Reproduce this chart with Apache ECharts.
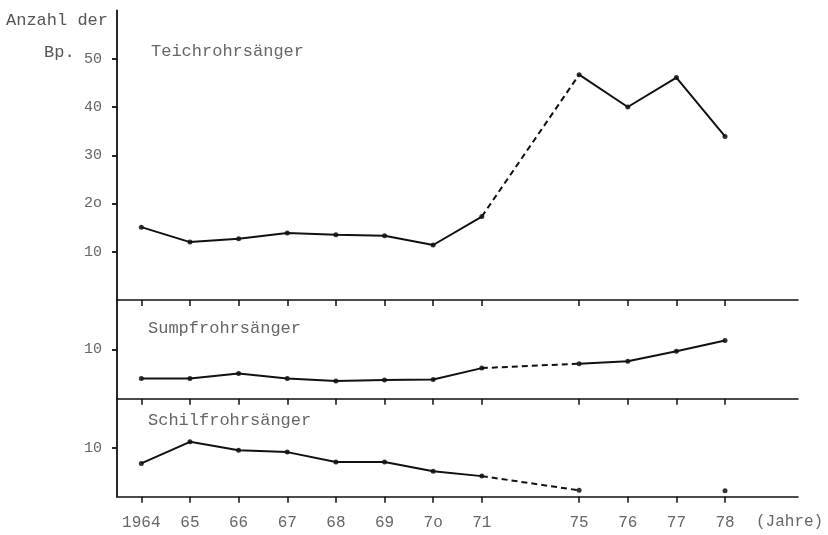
<!DOCTYPE html>
<html>
<head>
<meta charset="utf-8">
<script src="https://cdn.jsdelivr.net/npm/echarts@6/dist/echarts.min.js"></script>
<style>html,body{margin:0;padding:0;background:#fff}#c{width:828px;height:535px}</style>
</head>
<body>
<div id="c"></div>
<script>
const categories = ['1964','65','66','67','68','69','7o','71','','75','76','77','78',' '];
const teichValues  = [15.1,12.0,12.7,13.9,13.5,13.3,11.4,17.3,null,46.7,40.0,46.1,33.9,null];
const sumpfValues  = [4.1,4.1,5.1,4.1,3.6,3.8,3.9,6.2,null,7.1,7.6,9.6,11.8,null];
const schilfValues = [6.8,11.2,9.5,9.1,7.1,7.1,5.2,4.2,null,1.3,null,null,1.2,null];
const teichTickValues = [10,20,30,40,50];
const teichTickLabels = ['10','2o','30','40','50'];
const smallTickValues = [10];
const smallTickLabels = ['10'];
const panelTitles = ['Teichrohrsänger','Sumpfrohrsänger','Schilfrohrsänger'];
const yTitle = ['Anzahl der','Bp.'];
const xUnit = '(Jahre)';

const FONT = "'Liberation Mono','DejaVu Sans Mono',monospace";
const INK = '#111';
const TXT = '#666';

const grids = [
  {left:117, top:10.5, width:681, height:289.5},
  {left:117, top:300, width:681, height:98.7},
  {left:117, top:398.7, width:681, height:98}
];

function xAx(i, showLabels){
  return {
    type:'category', gridIndex:i, data:categories, boundaryGap:true,
    axisLine:{show:true, lineStyle:{color:INK, width:1.6}},
    axisTick:{show:true, alignWithLabel:true, length:6, inside:false,
      interval:function(idx, val){ return val.trim() !== ''; },
      lineStyle:{color:INK, width:1.5}},
    axisLabel:{show:showLabels, interval:0, margin:18, color:TXT, fontFamily:FONT, fontSize:16},
    splitLine:{show:false}
  };
}
function yAx(i, max, tickVals, tickLabels){
  return {
    type:'value', gridIndex:i, min:0, max:max,
    axisLine:{show:true, lineStyle:{color:INK, width:1.8}},
    axisTick:{show:true, length:5, customValues:tickVals, lineStyle:{color:INK, width:1.8}},
    axisLabel:{show:true, customValues:tickVals, margin:15, color:TXT, fontFamily:FONT, fontSize:15,
      formatter:function(v){ const k = tickVals.indexOf(v); return k>=0 ? tickLabels[k] : ''; }},
    splitLine:{show:false}
  };
}

function seg(values, from, to, dashed, ax){
  return {
    type:'line', xAxisIndex:ax, yAxisIndex:ax, symbol:'none', connectNulls:true,
    data: values.map((v,i)=> (i>=from && i<=to) ? v : null),
    lineStyle:{color:INK, width:2, type: dashed ? [6,4] : 'solid'},
    silent:true, animation:false
  };
}
function pts(values, ax){
  return {
    type:'scatter', xAxisIndex:ax, yAxisIndex:ax, symbol:'circle', symbolSize:5,
    data: values, itemStyle:{color:'#000'}, silent:true, animation:false
  };
}

const series = [
  seg(teichValues,0,7,false,0), seg(teichValues,7,9,true,0), seg(teichValues,9,12,false,0), pts(teichValues,0),
  seg(sumpfValues,0,7,false,1), seg(sumpfValues,7,9,true,1), seg(sumpfValues,9,12,false,1), pts(sumpfValues,1),
  seg(schilfValues,0,7,false,2), seg(schilfValues,7,9,true,2), pts(schilfValues,2)
];

const textStyle = (t, extra)=>Object.assign({text:t, fill:TXT, font:'17px '+FONT}, extra||{});

const chart = echarts.init(document.getElementById('c'), null, {renderer:'canvas'});
chart.setOption({
  backgroundColor:'#fff',
  animation:false,
  grid:grids,
  xAxis:[xAx(0,false), xAx(1,false), xAx(2,true)],
  yAxis:[yAx(0,60,teichTickValues,teichTickLabels), yAx(1,20,smallTickValues,smallTickLabels), yAx(2,20,smallTickValues,smallTickLabels)],
  series:series,
  graphic:[
    {type:'text', left:6, top:12, style:textStyle(yTitle[0], {fill:'#555'})},
    {type:'text', left:44, top:44, style:textStyle(yTitle[1], {fill:'#555'})},
    {type:'text', left:151, top:43, style:textStyle(panelTitles[0])},
    {type:'text', left:148, top:320, style:textStyle(panelTitles[1])},
    {type:'text', left:148, top:412, style:textStyle(panelTitles[2])},
    {type:'text', left:756, top:514, style:textStyle(xUnit, {font:'16px '+FONT})}
  ]
});
</script>
</body>
</html>
